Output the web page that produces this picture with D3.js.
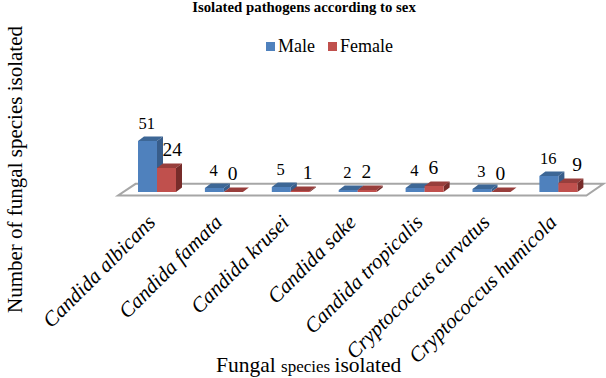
<!DOCTYPE html>
<html>
<head>
<meta charset="utf-8">
<script src="https://cdn.jsdelivr.net/npm/d3@7"></script>
<style>
  html, body { margin: 0; padding: 0; background: #fff; }
  svg { display: block; }
  text { font-family: "Liberation Serif", serif; fill: #000; }
</style>
</head>
<body>
<script>
// chart values
const species = ["Candida albicans", "Candida famata", "Candida krusei", "Candida sake",
                 "Candida tropicalis", "Cryptococcus curvatus", "Cryptococcus humicola"];
const male = [51, 4, 5, 2, 4, 3, 16];
const female = [24, 0, 1, 2, 6, 0, 9];
const seriesNames = ["Male", "Female"];

let width = 606, height = 378;
let svg = d3.select("body").append("svg").attr("width", width).attr("height", height);

// 3d look: how far the back of a bar sits from its front
let depth = {x: 6, y: -4.5};

// scales
let x = d3.scaleBand().domain(species).range([123.6, 591.9]).padding(0);
let inner = d3.scaleBand().domain(seriesNames).range([14.4, 52.4]);
let y = d3.scaleLinear().domain([0, 51]).range([192, 141]);

let colors = {
  Male:   {front: "#4f81bd", top: "#3d6796", side: "#385d8a"},
  Female: {front: "#c0504d", top: "#983e3c", side: "#772c2a"}
};

// floor of the chart
let floorFront = 195.5, floorBack = 183.8;
let floorLine = d3.line();
svg.append("path")
  .attr("d", floorLine([[x.range()[0] - 5.5, floorFront], [x.range()[1] - 5.5, floorFront],
                        [x.range()[1] + 11.5, floorBack], [x.range()[0] + 12, floorBack]]) + "Z")
  .attr("fill", "#fff")
  .attr("stroke", "#a6a6a6")
  .attr("stroke-width", 2);

// bars
let groups = svg.selectAll(".group")
  .data(species)
  .join("g")
  .attr("class", "group")
  .attr("transform", d => "translate(" + x(d) + ",0)");

// some female labels were dragged sideways in the original
let femaleLabelShift = {"Candida albicans": 6.5, "Candida krusei": 8, "Cryptococcus humicola": 10};

seriesNames.forEach((name, s) => {
  let values = s === 0 ? male : female;
  let w = inner.bandwidth();
  let x0 = inner(name);
  let base = y(0);

  // top face
  groups.append("path")
    .attr("d", (d, i) => {
      let t = y(values[i]);
      return floorLine([[x0, t], [x0 + w, t], [x0 + w + depth.x, t + depth.y], [x0 + depth.x, t + depth.y]]) + "Z";
    })
    .attr("fill", colors[name].top);

  // side face
  groups.append("path")
    .attr("d", (d, i) => {
      let t = y(values[i]);
      return floorLine([[x0 + w, t], [x0 + w + depth.x, t + depth.y], [x0 + w + depth.x, base + depth.y], [x0 + w, base]]) + "Z";
    })
    .attr("fill", colors[name].side);

  // front face
  groups.append("rect")
    .attr("x", x0)
    .attr("width", w)
    .attr("y", (d, i) => y(values[i]))
    .attr("height", (d, i) => base - y(values[i]))
    .attr("fill", colors[name].front);

  // value labels
  groups.append("text")
    .attr("x", d => x0 + w / 2 - 0.7 + (s === 1 ? (femaleLabelShift[d] || 0) : 0))
    .attr("y", (d, i) => y(values[i]) - 12)
    .attr("text-anchor", "middle")
    .style("font-size", s === 0 ? "16.5px" : "19.5px")
    .text((d, i) => values[i]);
});

// category axis, only the labels are visible
let xAxis = d3.axisBottom(x).tickSize(0).tickPadding(0);
let axisG = svg.append("g")
  .attr("transform", "translate(0,200)")
  .call(xAxis);
axisG.select(".domain").remove();
axisG.selectAll("text")
  .attr("text-anchor", "end")
  .attr("dy", "0")
  .attr("y", 0)
  .attr("transform", "translate(-0.5,23.5) rotate(-45)")
  .style("font-family", '"Liberation Serif", serif')
  .style("font-style", "italic")
  .style("font-size", "21px");

// title
svg.append("text")
  .attr("x", 304).attr("y", 12)
  .attr("text-anchor", "middle")
  .style("font-size", "14.8px")
  .style("font-weight", "bold")
  .text("Isolated pathogens according to sex");

// legend
let legendPos = d3.scaleOrdinal().domain(seriesNames).range([266, 328]);
let legend = svg.selectAll(".legend")
  .data(seriesNames)
  .join("g")
  .attr("class", "legend")
  .attr("transform", d => "translate(" + legendPos(d) + ",42)");
legend.append("rect")
  .attr("width", 9).attr("height", 9)
  .attr("fill", d => colors[d].front);
legend.append("text")
  .attr("x", 12).attr("y", 10)
  .style("font-size", "18px")
  .text(d => d);

// axis titles
svg.append("text")
  .attr("transform", "translate(22,169.5) rotate(-90)")
  .attr("text-anchor", "middle")
  .style("font-size", "21px")
  .text("Number of fungal species isolated");

let xTitle = svg.append("text")
  .attr("x", 216).attr("y", 372)
  .style("font-size", "21.5px");
xTitle.append("tspan").text("Fungal ");
xTitle.append("tspan").style("font-size", "17px").text("species ");
xTitle.append("tspan").text("isolated");
</script>
</body>
</html>
